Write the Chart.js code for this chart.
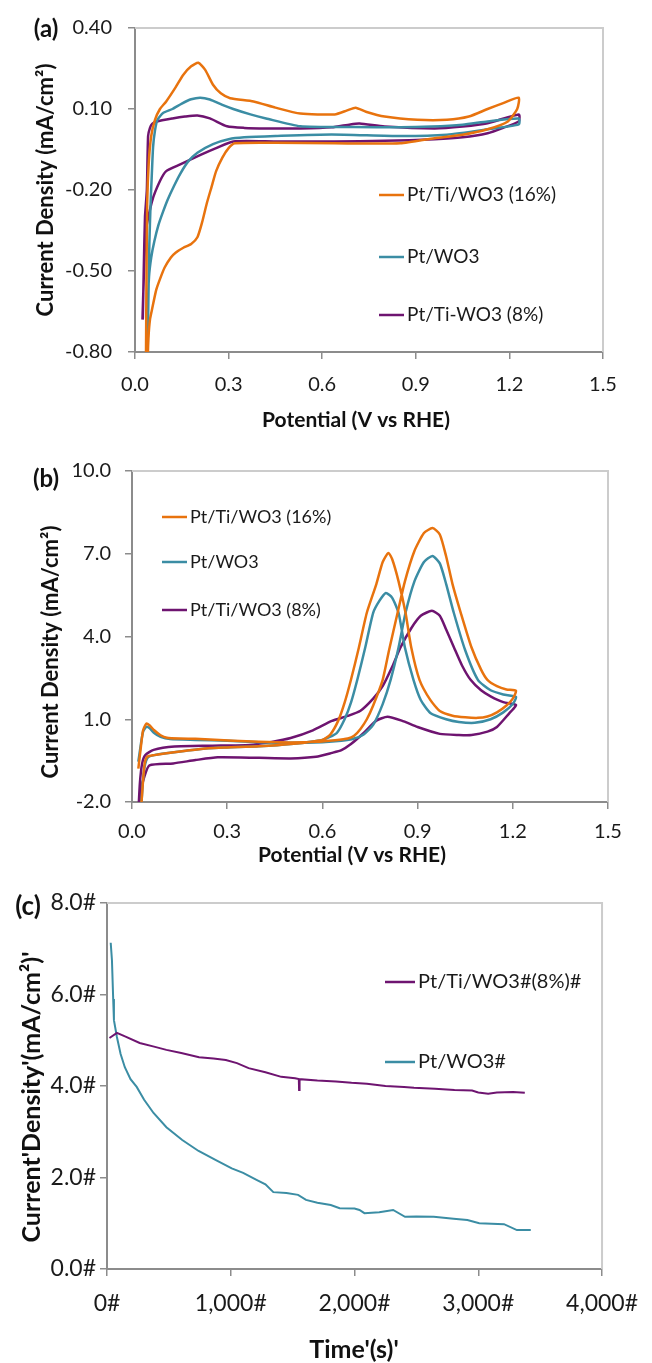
<!DOCTYPE html>
<html>
<head>
<meta charset="utf-8">
<script src="https://cdn.jsdelivr.net/npm/chart.js@4.4.0/dist/chart.umd.min.js"></script>
<style>
   html, body { margin: 0; padding: 0; background: #fff; }
   #wrap { position: relative; width: 652px; height: 1363px; }
   canvas { position: absolute; left: 0; }
</style>
</head>
<body>
<div id="wrap">
   <canvas id="cvA" width="652" height="440" style="top:0px"></canvas>
   <canvas id="cvB" width="652" height="430" style="top:440px"></canvas>
   <canvas id="cvC" width="652" height="493" style="top:870px"></canvas>
</div>
<script>
// ---- panel (a) : CV, V vs RHE / mA/cm2 ----
const aXTicks = [0, 0.3, 0.6, 0.9, 1.2, 1.5];
const aXLabels = ['0.0', '0.3', '0.6', '0.9', '1.2', '1.5'];
const aYTicks = [-0.8, -0.5, -0.2, 0.1, 0.4];
const aYLabels = ['-0.80', '-0.50', '-0.20', '0.10', '0.40'];
const aNames = ['Pt/Ti/WO3 (16%)', 'Pt/WO3', 'Pt/Ti-WO3 (8%)'];

const aPtTi16 = [
   [0.035,-0.85],[0.037,-0.5],[0.039,-0.25],[0.044,-0.1],[0.052,0.0],[0.064,0.06],[0.08,0.10],[0.10,0.128],
   [0.13,0.18],[0.155,0.227],[0.18,0.258],[0.203,0.271],[0.225,0.245],[0.25,0.19],[0.275,0.158],[0.305,0.14],
   [0.38,0.128],[0.45,0.105],[0.53,0.083],[0.64,0.08],[0.68,0.095],[0.707,0.105],[0.74,0.09],[0.8,0.072],
   [0.905,0.06],[1.0,0.06],[1.07,0.072],[1.13,0.10],[1.18,0.122],[1.23,0.142],
   [1.225,0.10],[1.195,0.054],[1.13,0.025],[1.05,0.005],[0.96,-0.008],[0.85,-0.027],[0.64,-0.027],[0.45,-0.025],
   [0.32,-0.027],[0.3,-0.045],[0.28,-0.08],[0.26,-0.13],[0.245,-0.19],[0.23,-0.25],[0.215,-0.32],[0.2,-0.375],
   [0.18,-0.4],[0.155,-0.414],[0.13,-0.432],[0.115,-0.45],[0.095,-0.487],[0.08,-0.53],[0.068,-0.57],[0.055,-0.64],
   [0.048,-0.68],[0.043,-0.75],[0.04,-0.85]
];
const aPtWO3 = [
   [0.04,-0.85],[0.043,-0.6],[0.046,-0.4],[0.05,-0.25],[0.054,-0.14],[0.058,-0.04],[0.064,0.02],[0.072,0.06],
   [0.09,0.085],[0.12,0.10],[0.15,0.12],[0.18,0.136],[0.209,0.142],[0.24,0.135],[0.28,0.115],[0.315,0.10],
   [0.37,0.08],[0.42,0.065],[0.53,0.036],[0.7,0.033],[0.85,0.032],[0.95,0.035],[1.05,0.042],[1.13,0.054],[1.23,0.065],
   [1.23,0.043],[1.13,0.025],[1.0,0.005],[0.85,0.0],[0.63,0.006],[0.45,0.0],[0.35,-0.005],[0.3,-0.012],
   [0.25,-0.03],[0.2,-0.062],[0.17,-0.095],[0.145,-0.14],[0.125,-0.185],[0.105,-0.235],[0.09,-0.28],
   [0.075,-0.33],[0.062,-0.39],[0.052,-0.45],[0.045,-0.52],[0.041,-0.65],[0.039,-0.85]
];
const aPtTi8 = [
   [0.025,-0.68],[0.028,-0.5],[0.032,-0.3],[0.038,-0.2],[0.042,0.0],[0.048,0.03],[0.055,0.045],[0.07,0.054],
   [0.12,0.065],[0.16,0.072],[0.2,0.076],[0.24,0.065],[0.295,0.036],[0.35,0.03],[0.42,0.028],[0.53,0.028],
   [0.63,0.032],[0.69,0.043],[0.72,0.046],[0.8,0.035],[0.96,0.028],[1.05,0.035],[1.13,0.047],[1.23,0.08],
   [1.23,0.054],[1.18,0.03],[1.13,0.01],[1.05,-0.005],[0.96,-0.012],[0.8,-0.018],[0.64,-0.02],[0.45,-0.02],
   [0.315,-0.02],[0.26,-0.045],[0.21,-0.07],[0.145,-0.105],[0.10,-0.13],[0.08,-0.167],[0.055,-0.24],
   [0.035,-0.35],[0.028,-0.53],[0.024,-0.68]
];

// ---- panel (b) ----
const bXTicks = [0, 0.3, 0.6, 0.9, 1.2, 1.5];
const bXLabels = ['0.0', '0.3', '0.6', '0.9', '1.2', '1.5'];
const bYTicks = [-2, 1, 4, 7, 10];
const bYLabels = ['-2.0', '1.0', '4.0', '7.0', '10.0'];
const bNames = ['Pt/Ti/WO3 (16%)', 'Pt/WO3', 'Pt/Ti/WO3 (8%)'];

const bPtTi16 = [
   [0.02,-0.79],[0.028,0.0],[0.035,0.6],[0.045,0.84],[0.055,0.78],[0.07,0.6],[0.09,0.42],[0.11,0.33],[0.15,0.30],
   [0.2,0.29],[0.26,0.26],[0.32,0.22],[0.4,0.18],[0.5,0.16],[0.58,0.18],[0.64,0.24],[0.68,0.3],[0.70,0.4],
   [0.72,0.65],[0.74,1.0],[0.76,1.5],[0.79,2.43],[0.81,3.5],[0.837,4.86],[0.86,6.0],[0.89,7.1],[0.92,7.75],
   [0.947,7.93],[0.97,7.7],[0.99,6.9],[1.01,5.9],[1.036,4.86],[1.07,3.6],[1.1,2.8],[1.12,2.43],[1.15,2.2],
   [1.18,2.08],[1.21,2.03],
   [1.20,1.75],[1.18,1.5],[1.15,1.25],[1.12,1.1],[1.09,1.05],[1.05,1.07],[1.01,1.13],[0.97,1.3],[0.94,1.7],
   [0.906,2.43],[0.88,3.6],[0.862,4.86],[0.84,6.0],[0.82,6.8],[0.808,7.03],[0.79,6.7],[0.77,5.9],[0.74,4.86],
   [0.715,3.6],[0.69,2.43],[0.67,1.6],[0.65,0.95],[0.625,0.45],[0.6,0.25],[0.5,0.1],[0.4,0.02],[0.3,-0.02],
   [0.24,-0.05],[0.17,-0.14],[0.108,-0.23],[0.07,-0.3],[0.048,-0.36],[0.04,-0.6],[0.035,-1.2],[0.03,-2.0],[0.027,-2.4]
];
const bPtWO3 = [
   [0.02,-0.54],[0.028,0.1],[0.035,0.55],[0.045,0.72],[0.055,0.68],[0.07,0.5],[0.09,0.36],[0.12,0.28],[0.2,0.25],
   [0.3,0.22],[0.4,0.17],[0.5,0.15],[0.6,0.17],[0.66,0.22],[0.70,0.3],[0.73,0.45],[0.76,0.8],[0.79,1.55],
   [0.815,2.43],[0.84,3.6],[0.862,4.86],[0.89,6.0],[0.92,6.7],[0.947,6.92],[0.97,6.65],[0.99,5.9],[1.014,4.86],
   [1.05,3.5],[1.09,2.43],[1.13,2.05],[1.17,1.9],[1.21,1.81],
   [1.20,1.55],[1.17,1.25],[1.13,1.0],[1.08,0.87],[1.03,0.9],[0.99,1.0],[0.94,1.23],[0.91,1.7],[0.887,2.43],
   [0.86,3.6],[0.84,4.86],[0.82,5.4],[0.80,5.58],[0.78,5.3],[0.76,4.86],[0.735,3.6],[0.71,2.43],[0.69,1.6],
   [0.67,1.0],[0.645,0.5],[0.6,0.25],[0.5,0.1],[0.4,0.02],[0.3,-0.02],[0.24,-0.05],[0.17,-0.14],[0.108,-0.23],
   [0.07,-0.3],[0.05,-0.38],[0.04,-0.7],[0.034,-1.3],[0.03,-2.0],[0.027,-2.4]
];
const bPtTi8 = [
   [0.02,-2.4],[0.025,-1.3],[0.032,-0.6],[0.042,-0.3],[0.068,-0.11],[0.134,0.01],[0.25,0.04],[0.37,0.07],
   [0.44,0.18],[0.5,0.32],[0.57,0.6],[0.63,0.94],[0.68,1.12],[0.72,1.31],[0.76,1.75],[0.79,2.2],[0.82,2.9],
   [0.846,3.6],[0.88,4.3],[0.91,4.75],[0.945,4.93],[0.97,4.75],[0.99,4.25],[1.014,3.62],[1.04,2.95],[1.067,2.43],
   [1.1,2.05],[1.13,1.83],[1.17,1.62],[1.21,1.52],
   [1.20,1.35],[1.19,1.23],[1.15,0.72],[1.12,0.55],[1.07,0.43],[1.03,0.43],[0.97,0.47],[0.9,0.72],[0.85,0.95],
   [0.805,1.09],[0.77,0.95],[0.73,0.5],[0.69,0.1],[0.66,-0.12],[0.63,-0.22],[0.58,-0.36],[0.5,-0.42],[0.4,-0.4],
   [0.27,-0.38],[0.2,-0.48],[0.13,-0.6],[0.055,-0.67],[0.04,-1.04],[0.03,-1.5],[0.025,-2.4]
];

// ---- panel (c) : chronoamperometry ----
const cXTicks = [0, 1000, 2000, 3000, 4000];
const cXLabels = ['0#', '1,000#', '2,000#', '3,000#', '4,000#'];
const cYTicks = [0, 2, 4, 6, 8];
const cYLabels = ['0.0#', '2.0#', '4.0#', '6.0#', '8.0#'];
const cNames = ['Pt/Ti/WO3#(8%)#', 'Pt/WO3#'];

const cPtTi8 = [
   [20,5.05],[80,5.16],[150,5.08],[264,4.94],[380,4.86],[480,4.79],[600,4.72],[744,4.63],[860,4.6],[960,4.57],
   [1050,4.5],[1144,4.39],[1280,4.3],[1408,4.2],[1520,4.17],[1550,4.15],[1552,3.91],[1556,4.15],[1700,4.12],
   [1850,4.1],[1976,4.07],[2100,4.05],[2250,4.0],[2400,3.98],[2480,3.96],[2650,3.94],[2808,3.91],[2950,3.9],
   [3000,3.86],[3080,3.83],[3150,3.86],[3280,3.87],[3376,3.85]
];
const cPtWO3 = [
   [30,7.13],[40,6.75],[50,5.9],[56,5.44],[80,5.07],[110,4.7],[144,4.41],[190,4.15],[240,3.98],[300,3.7],
   [376,3.41],[480,3.1],[608,2.82],[740,2.58],[880,2.38],[1008,2.2],[1100,2.1],[1208,1.95],[1280,1.85],
   [1344,1.68],[1450,1.66],[1544,1.62],[1608,1.51],[1700,1.45],[1808,1.4],[1880,1.33],[2000,1.32],[2040,1.29],
   [2080,1.22],[2200,1.24],[2312,1.29],[2408,1.14],[2500,1.15],[2640,1.14],[2800,1.1],[2912,1.07],[3008,1.0],
   [3208,0.98],[3312,0.85],[3424,0.85]
];

const ORANGE = '#E8730E';
const TEAL = '#3B8DA4';
const PURPLE = '#6E1470';
const FONT = 'Lato, "Open Sans", sans-serif';
const AXIS = '#8c8c8c';

// top/right frame, in-plot legend, panel letters and axis titles
const decor = {
   id: 'decor',
   afterDraw(chart, args, o) {
      const ctx = chart.ctx;
      const a = chart.chartArea;
      ctx.save();
      ctx.strokeStyle = '#cccccc';
      ctx.lineWidth = 2;
      ctx.beginPath();
      ctx.moveTo(a.left, a.top);
      ctx.lineTo(a.right, a.top);
      ctx.lineTo(a.right, a.bottom);
      ctx.stroke();

      const lg = o.legend;
      lg.rows.forEach((r, i) => {
         const ds = chart.data.datasets[r];
         ctx.strokeStyle = ds.borderColor;
         ctx.lineWidth = 2.5;
         ctx.beginPath();
         ctx.moveTo(lg.x, lg.ys[i]);
         ctx.lineTo(lg.x + lg.len, lg.ys[i]);
         ctx.stroke();
         ctx.fillStyle = '#1a1a1a';
         ctx.font = lg.font;
         ctx.textAlign = 'left';
         ctx.textBaseline = 'middle';
         ctx.fillText(ds.label, lg.x + lg.len + 3, lg.ys[i]);
      });

      o.texts.forEach(t => {
         ctx.save();
         ctx.translate(t.x, t.y);
         if (t.rot) ctx.rotate(-Math.PI / 2);
         ctx.fillStyle = '#111';
         ctx.font = t.font;
         ctx.textAlign = 'center';
         ctx.textBaseline = 'middle';
         ctx.fillText(t.text, 0, 0);
         ctx.restore();
      });
      ctx.restore();
   }
};

function pts(arr) {
   return arr.map(p => ({x: p[0], y: p[1]}));
}

function line(label, arr, color, width, tension) {
   return {
      label: label,
      data: pts(arr),
      borderColor: color,
      backgroundColor: color,
      borderWidth: width,
      pointRadius: 0,
      showLine: true,
      tension: tension
   };
}

function axis(o) {
   return {
      type: 'linear',
      min: o.ticks[0],
      max: o.ticks[o.ticks.length - 1],
      afterFit: s => { if (o.w) s.width = o.w; if (o.h) s.height = o.h; },
      afterBuildTicks: s => { s.ticks = o.ticks.map(v => ({value: v})); },
      ticks: {
         callback: (v, i) => o.labels[i],
         color: '#1a1a1a',
         font: {family: FONT, size: o.size},
         padding: o.pad,
         autoSkip: false,
         maxRotation: 0
      },
      grid: {drawOnChartArea: false, drawTicks: true, tickLength: 7, color: AXIS, lineWidth: 1.5},
      border: {color: AXIS, width: 2},
      title: {display: false}
   };
}

function makeChart(id, datasets, pad, xAx, yAx, decorOpts) {
   return new Chart(document.getElementById(id), {
      type: 'scatter',
      data: {datasets: datasets},
      options: {
         responsive: false,
         animation: false,
         devicePixelRatio: 1,
         layout: {padding: pad},
         scales: {x: xAx, y: yAx},
         plugins: {legend: {display: false}, tooltip: {enabled: false}, decor: decorOpts}
      },
      plugins: [decor]
   });
}

// (a)
makeChart('cvA',
   [line(aNames[0], aPtTi16, ORANGE, 2.5, 0.2),
    line(aNames[1], aPtWO3, TEAL, 2.5, 0.2),
    line(aNames[2], aPtTi8, PURPLE, 2.5, 0.2)],
   {left: 0, top: 26, right: 49, bottom: 0},
   axis({ticks: aXTicks, labels: aXLabels, size: 20, pad: 14, h: 88}),
   axis({ticks: aYTicks, labels: aYLabels, size: 20, pad: 16, w: 135}),
   {legend: {rows: [0, 1, 2], x: 379, len: 25, ys: [195, 257, 315], font: '19px ' + FONT},
    texts: [{text: '(a)', x: 46, y: 29, font: 'bold 24px ' + FONT},
            {text: 'Current Density (mA/cm²)', x: 46, y: 190, rot: true, font: 'bold 22px ' + FONT},
            {text: 'Potential (V vs RHE)', x: 356, y: 420, font: 'bold 21px ' + FONT}]}
);

// (b)
makeChart('cvB',
   [line(bNames[0], bPtTi16, ORANGE, 2.5, 0.2),
    line(bNames[1], bPtWO3, TEAL, 2.5, 0.2),
    line(bNames[2], bPtTi8, PURPLE, 2.5, 0.2)],
   {left: 0, top: 31, right: 44, bottom: 0},
   axis({ticks: bXTicks, labels: bXLabels, size: 20, pad: 11, h: 68}),
   axis({ticks: bYTicks, labels: bYLabels, size: 20, pad: 14, w: 132}),
   {legend: {rows: [0, 1, 2], x: 162, len: 25, ys: [77, 122, 170], font: '18px ' + FONT},
    texts: [{text: '(b)', x: 46, y: 39, font: 'bold 24px ' + FONT},
            {text: 'Current Density (mA/cm²)', x: 51, y: 212, rot: true, font: 'bold 22px ' + FONT},
            {text: 'Potential (V vs RHE)', x: 352, y: 415, font: 'bold 21px ' + FONT}]}
);

// (c)
makeChart('cvC',
   [line(cNames[0], cPtTi8, PURPLE, 2, 0),
    line(cNames[1], cPtWO3, TEAL, 2, 0)],
   {left: 0, top: 33, right: 45, bottom: 0},
   axis({ticks: cXTicks, labels: cXLabels, size: 23, pad: 14, h: 94}),
   axis({ticks: cYTicks, labels: cYLabels, size: 23, pad: 4, w: 107}),
   {legend: {rows: [0, 1], x: 385, len: 30, ys: [112, 192], font: '20px ' + FONT},
    texts: [{text: '(c)', x: 28, y: 37, font: 'bold 26px ' + FONT},
            {text: "Current'Density'(mA/cm²)'", x: 32, y: 227, rot: true, font: 'bold 25px ' + FONT},
            {text: "Time'(s)'", x: 354, y: 480, font: 'bold 25px ' + FONT}]}
);
</script>
</body>
</html>
